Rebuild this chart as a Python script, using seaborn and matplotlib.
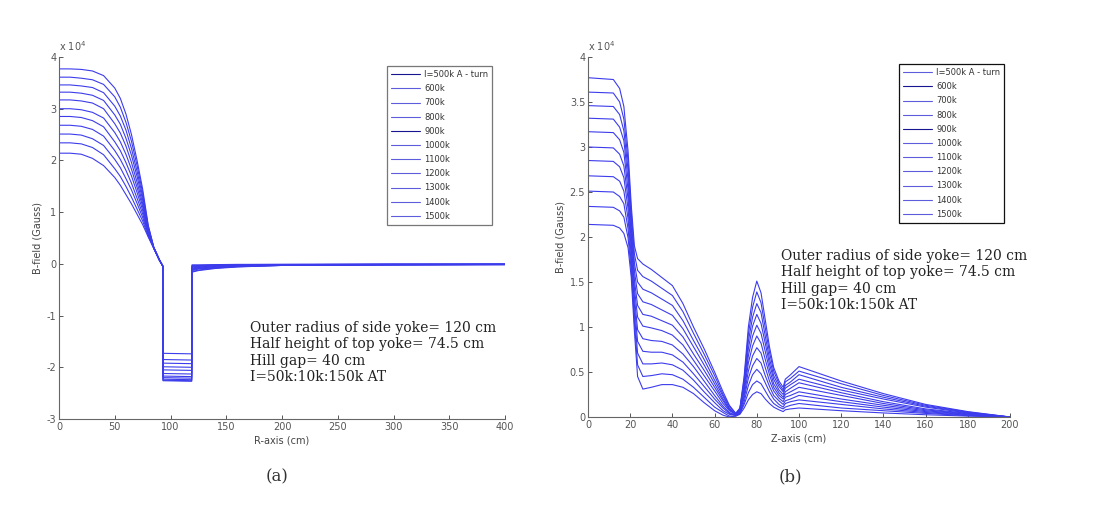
import matplotlib
matplotlib.use("Agg")
import matplotlib.pyplot as plt
import seaborn as sns

# legend labels (coil current)
currents = ["I=500k A - turn", "600k", "700k", "800k", "900k", "1000k",
            "1100k", "1200k", "1300k", "1400k", "1500k"]

# (a) radial profile, B in units of 1e4 Gauss
r_pos = [0, 10, 20, 30, 40, 50, 55, 60, 65, 70, 75, 80, 85, 90, 93,
         93.3, 119, 119.3, 125, 140, 160, 200, 300, 400]
r_field = [
    [2.14, 2.14, 2.12, 2.04, 1.90, 1.67, 1.52, 1.34, 1.16, 0.96, 0.76, 0.52, 0.30, 0.07, -0.04,
     -1.73, -1.74, -0.02, -0.02, -0.015, -0.01, -0.01, -0.005, -0.005],
    [2.34, 2.34, 2.32, 2.25, 2.11, 1.84, 1.69, 1.50, 1.29, 1.06, 0.83, 0.54, 0.30, 0.07, -0.04,
     -1.85, -1.86, -0.03, -0.03, -0.02, -0.015, -0.01, -0.005, -0.005],
    [2.51, 2.51, 2.49, 2.42, 2.29, 2.02, 1.86, 1.65, 1.43, 1.17, 0.90, 0.57, 0.30, 0.07, -0.04,
     -1.92, -1.93, -0.05, -0.04, -0.03, -0.02, -0.015, -0.01, -0.005],
    [2.68, 2.68, 2.66, 2.60, 2.47, 2.19, 2.02, 1.81, 1.56, 1.27, 0.97, 0.59, 0.31, 0.07, -0.04,
     -1.99, -2.00, -0.06, -0.05, -0.035, -0.025, -0.015, -0.01, -0.01],
    [2.85, 2.85, 2.83, 2.77, 2.65, 2.36, 2.19, 1.96, 1.70, 1.38, 1.04, 0.61, 0.31, 0.08, -0.04,
     -2.05, -2.06, -0.08, -0.06, -0.04, -0.03, -0.02, -0.01, -0.01],
    [3.00, 3.00, 2.98, 2.93, 2.82, 2.54, 2.36, 2.12, 1.83, 1.48, 1.11, 0.64, 0.31, 0.08, -0.04,
     -2.12, -2.13, -0.09, -0.07, -0.05, -0.035, -0.02, -0.015, -0.01],
    [3.17, 3.17, 3.15, 3.11, 3.00, 2.71, 2.53, 2.28, 1.96, 1.58, 1.17, 0.66, 0.31, 0.08, -0.04,
     -2.17, -2.18, -0.10, -0.08, -0.06, -0.04, -0.025, -0.015, -0.01],
    [3.32, 3.32, 3.30, 3.26, 3.16, 2.88, 2.70, 2.43, 2.10, 1.69, 1.24, 0.68, 0.31, 0.08, -0.04,
     -2.20, -2.21, -0.12, -0.09, -0.07, -0.045, -0.025, -0.015, -0.01],
    [3.46, 3.46, 3.44, 3.41, 3.31, 3.05, 2.86, 2.59, 2.23, 1.79, 1.31, 0.70, 0.32, 0.08, -0.04,
     -2.23, -2.24, -0.13, -0.10, -0.075, -0.05, -0.03, -0.02, -0.015],
    [3.61, 3.61, 3.59, 3.56, 3.47, 3.23, 3.03, 2.74, 2.37, 1.90, 1.38, 0.73, 0.32, 0.08, -0.04,
     -2.25, -2.26, -0.15, -0.12, -0.08, -0.055, -0.03, -0.02, -0.015],
    [3.77, 3.77, 3.76, 3.73, 3.64, 3.40, 3.20, 2.90, 2.50, 2.00, 1.45, 0.75, 0.32, 0.08, -0.04,
     -2.26, -2.27, -0.16, -0.13, -0.09, -0.06, -0.03, -0.02, -0.015],
]

# (b) axial profile, B in units of 1e4 Gauss
z_pos = [0, 12, 15, 17, 19, 20.5, 22, 23.5, 26, 30, 35, 40, 45, 50, 55, 60, 64, 67, 70, 72,
         74, 76, 78, 80, 82, 84, 86, 88, 90.5, 92.5, 93.5, 96, 100, 120, 140, 160, 180, 200]
z_field = [
    [2.14, 2.13, 2.10, 2.04, 1.88, 1.55, 0.95, 0.45, 0.31, 0.33, 0.36, 0.36, 0.33, 0.26, 0.16, 0.07, 0.02, 0.00, 0.01, 0.03,
     0.10, 0.19, 0.25, 0.28, 0.26, 0.20, 0.15, 0.11, 0.08, 0.06, 0.08, 0.09, 0.10, 0.07, 0.045, 0.025, 0.01, 0.0],
    [2.34, 2.33, 2.29, 2.22, 1.99, 1.63, 1.05, 0.58, 0.45, 0.46, 0.48, 0.47, 0.42, 0.33, 0.22, 0.11, 0.05, 0.01, 0.01, 0.04,
     0.14, 0.27, 0.36, 0.40, 0.37, 0.29, 0.21, 0.15, 0.11, 0.09, 0.11, 0.13, 0.15, 0.10, 0.07, 0.04, 0.015, 0.0],
    [2.51, 2.50, 2.45, 2.37, 2.09, 1.71, 1.14, 0.71, 0.59, 0.59, 0.60, 0.58, 0.52, 0.41, 0.28, 0.16, 0.07, 0.03, 0.02, 0.04,
     0.17, 0.35, 0.47, 0.53, 0.48, 0.38, 0.28, 0.20, 0.14, 0.11, 0.15, 0.17, 0.19, 0.14, 0.09, 0.05, 0.02, 0.0],
    [2.68, 2.67, 2.62, 2.51, 2.20, 1.79, 1.24, 0.84, 0.73, 0.72, 0.72, 0.69, 0.61, 0.48, 0.34, 0.20, 0.10, 0.04, 0.02, 0.05,
     0.21, 0.43, 0.57, 0.65, 0.60, 0.46, 0.34, 0.24, 0.18, 0.14, 0.18, 0.20, 0.24, 0.17, 0.11, 0.06, 0.025, 0.0],
    [2.85, 2.84, 2.78, 2.66, 2.31, 1.87, 1.33, 0.97, 0.87, 0.85, 0.84, 0.80, 0.70, 0.56, 0.40, 0.24, 0.12, 0.05, 0.02, 0.06,
     0.24, 0.51, 0.68, 0.77, 0.71, 0.55, 0.40, 0.29, 0.21, 0.17, 0.22, 0.24, 0.28, 0.20, 0.13, 0.07, 0.03, 0.0],
    [3.00, 2.99, 2.92, 2.79, 2.42, 1.95, 1.43, 1.11, 1.01, 0.99, 0.96, 0.91, 0.80, 0.63, 0.46, 0.29, 0.15, 0.07, 0.03, 0.07,
     0.28, 0.60, 0.79, 0.90, 0.82, 0.64, 0.47, 0.33, 0.24, 0.20, 0.25, 0.28, 0.33, 0.24, 0.15, 0.08, 0.035, 0.0],
    [3.17, 3.16, 3.08, 2.94, 2.52, 2.03, 1.52, 1.24, 1.14, 1.12, 1.07, 1.02, 0.89, 0.70, 0.52, 0.33, 0.18, 0.08, 0.03, 0.07,
     0.31, 0.68, 0.90, 1.02, 0.93, 0.73, 0.53, 0.37, 0.27, 0.22, 0.28, 0.32, 0.38, 0.27, 0.17, 0.09, 0.04, 0.0],
    [3.32, 3.31, 3.22, 3.07, 2.63, 2.11, 1.62, 1.37, 1.28, 1.25, 1.19, 1.13, 0.98, 0.78, 0.58, 0.37, 0.20, 0.09, 0.03, 0.08,
     0.35, 0.76, 1.01, 1.14, 1.04, 0.82, 0.59, 0.42, 0.30, 0.25, 0.32, 0.36, 0.42, 0.30, 0.20, 0.11, 0.045, 0.0],
    [3.46, 3.45, 3.36, 3.18, 2.74, 2.19, 1.71, 1.50, 1.42, 1.38, 1.31, 1.24, 1.07, 0.85, 0.64, 0.41, 0.23, 0.10, 0.03, 0.09,
     0.38, 0.84, 1.11, 1.26, 1.16, 0.90, 0.65, 0.46, 0.34, 0.28, 0.35, 0.39, 0.47, 0.33, 0.22, 0.12, 0.05, 0.0],
    [3.61, 3.60, 3.50, 3.31, 2.84, 2.27, 1.81, 1.63, 1.56, 1.51, 1.43, 1.35, 1.17, 0.93, 0.70, 0.46, 0.25, 0.12, 0.04, 0.09,
     0.42, 0.92, 1.22, 1.39, 1.27, 0.99, 0.72, 0.51, 0.37, 0.30, 0.39, 0.43, 0.51, 0.37, 0.24, 0.13, 0.055, 0.0],
    [3.77, 3.75, 3.65, 3.45, 2.95, 2.35, 1.90, 1.76, 1.70, 1.64, 1.55, 1.46, 1.26, 1.00, 0.76, 0.50, 0.28, 0.13, 0.04, 0.10,
     0.45, 1.00, 1.33, 1.51, 1.38, 1.08, 0.78, 0.55, 0.40, 0.33, 0.42, 0.47, 0.56, 0.40, 0.26, 0.14, 0.06, 0.0],
]

notes = ("Outer radius of side yoke= 120 cm\n"
         "Half height of top yoke= 74.5 cm\n"
         "Hill gap= 40 cm\n"
         "I=50k:10k:150k AT")

LINE = "#3c3cec"
LIGHT = "#5c5cdc"
DARK = "#15158f"
# legend swatches in the scan come out light or dark
swatch_a = [DARK, LIGHT, LIGHT, LIGHT, DARK, LIGHT, LIGHT, LIGHT, LIGHT, LIGHT, LIGHT]
swatch_b = [LIGHT, DARK, LIGHT, LIGHT, DARK, LIGHT, LIGHT, LIGHT, LIGHT, LIGHT, LIGHT]

sns.set_style("ticks")
plt.rcParams["font.family"] = ["DejaVu Sans"]
plt.rcParams["axes.unicode_minus"] = False
plt.rcParams["xtick.direction"] = "in"
plt.rcParams["ytick.direction"] = "in"

W, H = 1107, 513
fig = plt.figure(figsize=(W / 100, H / 100), dpi=100)
ax1 = fig.add_axes([59 / W, 1 - 419 / H, (505 - 59) / W, (419 - 57) / H])
ax2 = fig.add_axes([588 / W, 1 - 417 / H, (1010 - 588) / W, (417 - 57) / H])

for lab, vals in zip(currents, r_field):
    sns.lineplot(x=r_pos, y=vals, color=LINE, lw=0.8, label=lab, ax=ax1,
                 sort=False, estimator=None)
for lab, vals in zip(currents, z_field):
    sns.lineplot(x=z_pos, y=vals, color=LINE, lw=0.8, label=lab, ax=ax2,
                 sort=False, estimator=None)

ax1.set_xlim(0, 400)
ax1.set_ylim(-3, 4)
ax1.set_xticks(range(0, 401, 50))
ax1.set_yticks(range(-3, 5))
ax1.set_xlabel("R-axis (cm)")

ax2.set_xlim(0, 200)
ax2.set_ylim(0, 4)
ax2.set_xticks(range(0, 201, 20))
ax2.set_yticks([0, 0.5, 1, 1.5, 2, 2.5, 3, 3.5, 4])
ax2.set_yticklabels(["0", "0.5", "1", "1.5", "2", "2.5", "3", "3.5", "4"])
ax2.set_xlabel("Z-axis (cm)")

legend_pos = [(387, 66, "#777777", swatch_a), (899, 64, "#111111", swatch_b)]
for ax, (lx, ly, ec, sw) in zip([ax1, ax2], legend_pos):
    sns.despine(ax=ax)
    for s in ["left", "bottom"]:
        ax.spines[s].set_color("#666666")
        ax.spines[s].set_linewidth(0.8)
    ax.tick_params(labelsize=7, colors="#555555", length=3, width=0.7, pad=2)
    ax.set_ylabel("B-field (Gauss)", fontsize=7, color="#444444", labelpad=3)
    ax.xaxis.label.set_size(7)
    ax.xaxis.label.set_color("#444444")
    ax.xaxis.labelpad = 3
    ax.text(0.0, 1.012, r"x 10$^{4}$", transform=ax.transAxes, fontsize=7,
            color="#555555", ha="left", va="bottom")
    leg = ax.legend(loc="upper left", bbox_to_anchor=(lx / W, 1 - ly / H),
                    bbox_transform=fig.transFigure, borderaxespad=0,
                    fontsize=6, handlelength=3.4, handletextpad=0.55,
                    labelspacing=0.62, borderpad=0.5, fancybox=False,
                    framealpha=1, edgecolor=ec)
    leg.get_frame().set_linewidth(0.9)
    for h, c in zip(leg.legend_handles, sw):
        h.set_color(c)
    for t in leg.get_texts():
        t.set_color("#333333")

fig.text(250 / W, 1 - 321 / H, notes, family="DejaVu Serif", fontsize=10,
         color="#222222", va="top", ha="left", linespacing=1.22)
fig.text(781 / W, 1 - 249 / H, notes, family="DejaVu Serif", fontsize=10,
         color="#222222", va="top", ha="left", linespacing=1.22)

fig.text(277 / W, 1 - 477 / H, "(a)", family="DejaVu Serif", fontsize=12,
         color="#333333", ha="center", va="center")
fig.text(790 / W, 1 - 477 / H, "(b)", family="DejaVu Serif", fontsize=12,
         color="#333333", ha="center", va="center")

fig.savefig("out.png", dpi=100)
